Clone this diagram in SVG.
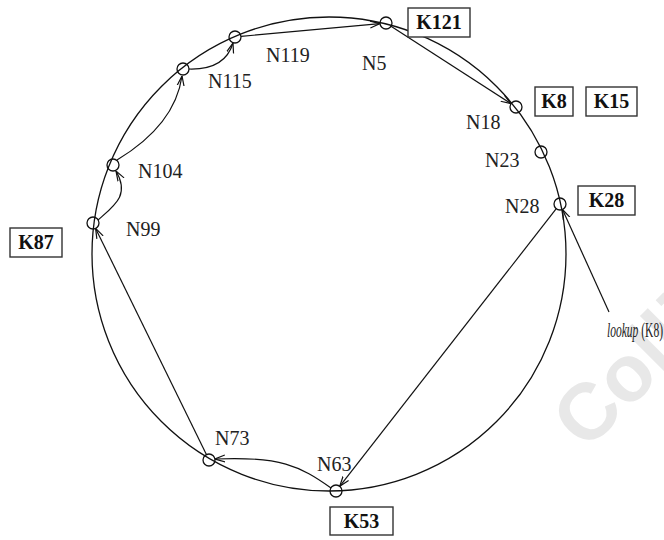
<svg xmlns="http://www.w3.org/2000/svg" width="664" height="540" viewBox="0 0 664 540">
  <style>
    .ring { fill: none; stroke: #111; stroke-width: 1.3; }
    .node { fill: none; stroke: #111; stroke-width: 1.3; }
    .lbl { font-family: "Liberation Serif", "Times New Roman", serif; font-size: 20px; fill: #222; }
    .key rect { fill: #fff; stroke: #333; stroke-width: 1.4; }
    .key text { font-family: "Liberation Serif", "Times New Roman", serif; font-size: 20px; font-weight: bold; fill: #111; text-anchor: middle; }
    .edge { fill: none; stroke: #111; stroke-width: 1.2; marker-end: url(#arr); }
    .mark { font-family: "Liberation Sans", Arial, sans-serif; font-weight: bold; font-size: 80px; fill: #e8e8e8; }
  </style>
  <defs>
    <marker id="arr" viewBox="0 0 10 10" refX="10" refY="5" markerWidth="10" markerHeight="10" markerUnits="userSpaceOnUse" orient="auto">
      <path d="M0,1.5 L10,5 L0,8.5" fill="none" stroke="#111" stroke-width="1.2"/>
    </marker>
  </defs>

  <rect width="664" height="540" fill="#fff"/>

  <!-- publisher mark, bottom right -->
  <text class="mark" transform="translate(586,452) rotate(-45)">Collins</text>

  <!-- identifier ring -->
  <circle class="ring" cx="329" cy="254" r="237"/>

  <!-- lookup hops -->
  <g id="connectors">
    <line class="edge" x1="241" y1="36.4" x2="380" y2="23.6"/>
    <line class="edge" x1="391" y1="26.3" x2="511" y2="103.7"/>
    <line class="edge" x1="556.3" y1="208.7" x2="339.7" y2="486.3"/>
    <path class="edge" d="M331,488 C300,466 280,456 215,459"/>
    <line class="edge" x1="206.4" y1="454.6" x2="95.6" y2="228.4"/>
    <path class="edge" d="M98,220 C115,205 130,195 116,171"/>
    <path class="edge" d="M117,160 Q175,125 182,76"/>
    <path class="edge" d="M189,69 Q225,70 233,43"/>
    <line class="edge" x1="609" y1="312" x2="562.5" y2="209.5"/>
  </g>

  <!-- nodes on the ring -->
  <g id="n5"><circle class="node" cx="386" cy="23" r="6"/><text class="lbl" x="362" y="70">N5</text></g>
  <g id="n18"><circle class="node" cx="516" cy="107" r="6"/><text class="lbl" x="466" y="129">N18</text></g>
  <g id="n23"><circle class="node" cx="541" cy="152" r="6"/><text class="lbl" x="485" y="167">N23</text></g>
  <g id="n28"><circle class="node" cx="560" cy="204" r="6"/><text class="lbl" x="505" y="213">N28</text></g>
  <g id="n63"><circle class="node" cx="336" cy="491" r="6"/><text class="lbl" x="317" y="471">N63</text></g>
  <g id="n73"><circle class="node" cx="209" cy="460" r="6"/><text class="lbl" x="215" y="445">N73</text></g>
  <g id="n99"><circle class="node" cx="93" cy="223" r="6"/><text class="lbl" x="126" y="236">N99</text></g>
  <g id="n104"><circle class="node" cx="113" cy="165" r="6"/><text class="lbl" x="138" y="178">N104</text></g>
  <g id="n115"><circle class="node" cx="183" cy="69" r="6"/><text class="lbl" x="208" y="88">N115</text></g>
  <g id="n119"><circle class="node" cx="235" cy="37" r="6"/><text class="lbl" x="266" y="62">N119</text></g>

  <!-- key boxes -->
  <g id="k121" class="key"><rect x="408" y="8" width="62" height="29"/><text x="439" y="29">K121</text></g>
  <g id="k8" class="key"><rect x="535" y="87" width="38" height="29"/><text x="554" y="108">K8</text></g>
  <g id="k15" class="key"><rect x="586" y="87" width="51" height="29"/><text x="611.5" y="108">K15</text></g>
  <g id="k28" class="key"><rect x="578" y="186" width="57" height="29"/><text x="606.5" y="207">K28</text></g>
  <g id="k87" class="key"><rect x="10" y="228" width="52" height="29"/><text x="36" y="249">K87</text></g>
  <g id="k53" class="key"><rect x="330" y="507" width="63" height="28"/><text x="361.5" y="528">K53</text></g>

  <!-- query label -->
  <g id="query">
    <text class="lbl" x="607" y="337" font-size="17" textLength="56" lengthAdjust="spacingAndGlyphs"><tspan font-style="italic">lookup</tspan> (K8)</text>
  </g>
</svg>
